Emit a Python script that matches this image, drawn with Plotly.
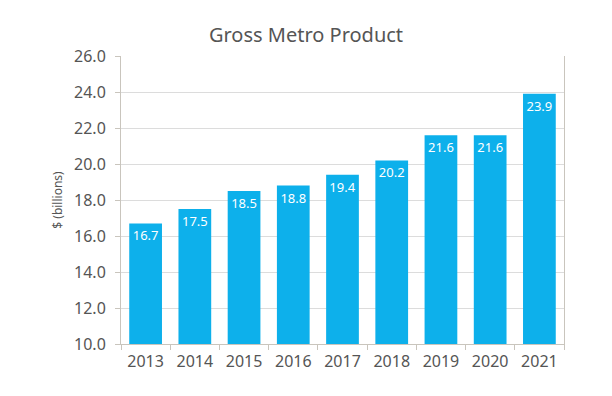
import plotly.graph_objects as go

years = ["2013", "2014", "2015", "2016", "2017", "2018", "2019", "2020", "2021"]
gmp = [16.7, 17.5, 18.5, 18.8, 19.4, 20.2, 21.6, 21.6, 23.9]
y_ticks = [10, 12, 14, 16, 18, 20, 22, 24, 26]

font_family = "Noto Sans, Lato, sans-serif"
grey = "#555555"

fig = go.Figure(
    go.Bar(
        x=years,
        y=gmp,
        marker=dict(color="#0DB0EB", line=dict(width=0)),
        text=[f"{v:.1f}" for v in gmp],
        textposition="inside",
        insidetextanchor="end",
        textangle=0,
        textfont=dict(color="white", size=13, family=font_family),
        constraintext="none",
        cliponaxis=False,
    )
)

fig.update_layout(
    width=612,
    height=396,
    margin=dict(l=113, r=56, t=48, b=60),
    paper_bgcolor="white",
    plot_bgcolor="white",
    bargap=0.335,
    showlegend=False,
    title=dict(
        text="Gross Metro Product",
        x=298 / 612,
        xanchor="center",
        xref="container",
        y=1 - 27 / 396,
        yanchor="middle",
        font=dict(size=20, color=grey, family=font_family),
    ),
    font=dict(family=font_family, color=grey),
)

fig.update_xaxes(
    type="category",
    showgrid=False,
    showline=True,
    linecolor="#c9c5bd",
    linewidth=1,
    ticks="outside",
    tickson="boundaries",
    ticklen=5,
    tickcolor="#c9c5bd",
    ticklabelstandoff=3,
    tickfont=dict(size=16, color=grey, family=font_family),
    mirror=False,
)

fig.update_yaxes(
    range=[10, 26],
    tickvals=y_ticks,
    ticktext=[f"{v:.1f}" for v in y_ticks],
    showgrid=True,
    gridcolor="#dcdcdc",
    gridwidth=1,
    showline=True,
    linecolor="#c9c5bd",
    linewidth=1,
    mirror=True,
    ticks="outside",
    ticklen=5,
    tickcolor="#c9c5bd",
    ticklabelstandoff=6,
    tickfont=dict(size=16, color=grey, family=font_family),
    title=dict(text="$ (billions)", font=dict(size=12, color=grey, family=font_family), standoff=8),
    zeroline=False,
)

fig.write_html("out.html")
